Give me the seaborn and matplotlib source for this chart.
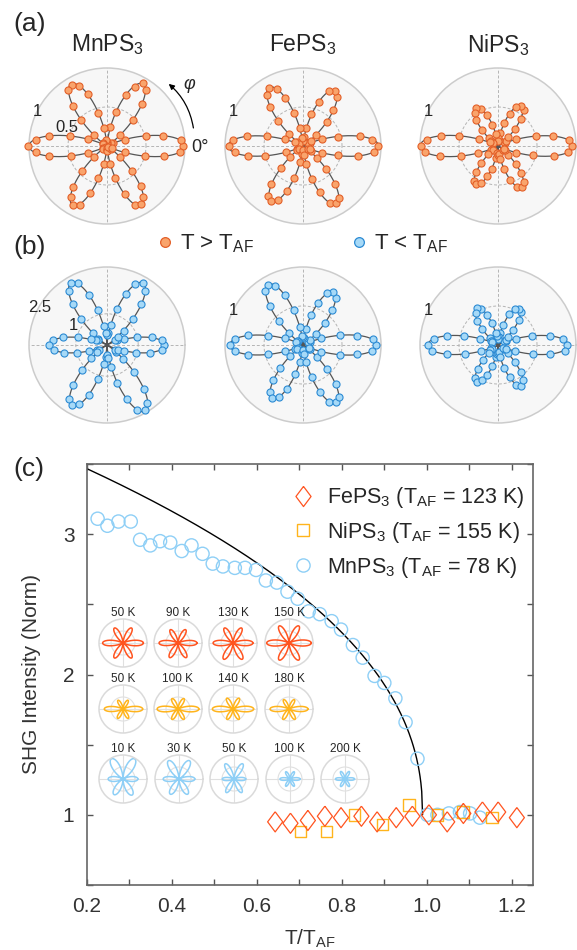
import numpy as np
import matplotlib
matplotlib.use('Agg')
import matplotlib.pyplot as plt
import seaborn as sns
from matplotlib.lines import Line2D
from matplotlib.ticker import MultipleLocator

# ---------------- (a)/(b) polar SHG patterns, one point every 5 deg
phi_deg = np.arange(0, 360, 5)

mn_hi = [0.98, 0.95, 0.73, 0.52, 0.24, 0.08, 0.03, 0.07, 0.22, 0.47, 0.70, 0.88,
         0.93, 0.84, 0.70, 0.45, 0.25, 0.05, 0.02, 0.08, 0.24, 0.44, 0.71, 0.85,
         0.90, 0.87, 0.67, 0.47, 0.22, 0.07, 0.01, 0.06, 0.26, 0.49, 0.76, 0.91,
         1.01, 0.92, 0.76, 0.48, 0.26, 0.06, 0.02, 0.07, 0.21, 0.45, 0.68, 0.80,
         0.87, 0.83, 0.64, 0.43, 0.23, 0.05, 0.03, 0.06, 0.23, 0.42, 0.66, 0.84,
         0.86, 0.80, 0.67, 0.45, 0.21, 0.07, 0.02, 0.07, 0.24, 0.51, 0.74, 0.94]
fe_hi = [0.96, 0.89, 0.74, 0.47, 0.26, 0.10, 0.08, 0.12, 0.22, 0.43, 0.60, 0.77,
         0.81, 0.78, 0.60, 0.42, 0.24, 0.11, 0.07, 0.10, 0.24, 0.44, 0.66, 0.80,
         0.86, 0.80, 0.66, 0.45, 0.23, 0.09, 0.06, 0.12, 0.25, 0.48, 0.73, 0.90,
         0.95, 0.88, 0.71, 0.50, 0.23, 0.08, 0.09, 0.07, 0.22, 0.40, 0.63, 0.78,
         0.81, 0.77, 0.61, 0.43, 0.21, 0.10, 0.05, 0.11, 0.23, 0.44, 0.63, 0.81,
         0.85, 0.81, 0.64, 0.41, 0.23, 0.12, 0.08, 0.10, 0.26, 0.47, 0.72, 0.91]
ni_hi = [0.95, 0.91, 0.72, 0.50, 0.25, 0.10, 0.09, 0.12, 0.17, 0.31, 0.45, 0.57,
         0.59, 0.55, 0.44, 0.30, 0.17, 0.08, 0.10, 0.07, 0.16, 0.28, 0.42, 0.53,
         0.56, 0.52, 0.43, 0.29, 0.15, 0.11, 0.08, 0.12, 0.26, 0.52, 0.74, 0.92,
         0.99, 0.94, 0.76, 0.49, 0.27, 0.09, 0.11, 0.08, 0.16, 0.30, 0.43, 0.54,
         0.56, 0.53, 0.41, 0.30, 0.16, 0.09, 0.12, 0.10, 0.17, 0.31, 0.46, 0.58,
         0.61, 0.57, 0.45, 0.33, 0.17, 0.08, 0.10, 0.09, 0.25, 0.47, 0.73, 0.90]
mn_lo = [1.84, 1.78, 1.45, 1.00, 0.58, 0.35, 0.30, 0.42, 0.70, 1.18, 1.72, 2.10,
         2.28, 2.15, 1.75, 1.20, 0.65, 0.38, 0.33, 0.40, 0.62, 1.15, 1.70, 2.18,
         2.30, 2.12, 1.70, 1.16, 0.60, 0.35, 0.32, 0.38, 0.55, 0.95, 1.42, 1.75,
         1.85, 1.72, 1.40, 0.98, 0.60, 0.36, 0.30, 0.41, 0.66, 1.15, 1.68, 2.10,
         2.22, 2.10, 1.72, 1.14, 0.62, 0.38, 0.31, 0.43, 0.70, 1.25, 1.85, 2.30,
         2.42, 2.25, 1.85, 1.24, 0.68, 0.37, 0.29, 0.40, 0.58, 0.96, 1.40, 1.76]
fe_lo = [0.94, 0.90, 0.70, 0.49, 0.25, 0.10, 0.07, 0.11, 0.21, 0.40, 0.58, 0.73,
         0.78, 0.74, 0.57, 0.40, 0.21, 0.09, 0.10, 0.12, 0.23, 0.46, 0.68, 0.84,
         0.89, 0.84, 0.66, 0.44, 0.24, 0.08, 0.09, 0.10, 0.25, 0.46, 0.71, 0.88,
         0.93, 0.87, 0.72, 0.46, 0.24, 0.11, 0.08, 0.09, 0.21, 0.41, 0.59, 0.74,
         0.79, 0.73, 0.60, 0.39, 0.22, 0.10, 0.06, 0.12, 0.22, 0.43, 0.64, 0.80,
         0.85, 0.81, 0.65, 0.43, 0.23, 0.09, 0.10, 0.08, 0.25, 0.49, 0.70, 0.89]
ni_lo = [0.89, 0.84, 0.68, 0.45, 0.24, 0.11, 0.09, 0.12, 0.16, 0.28, 0.42, 0.52,
         0.54, 0.51, 0.42, 0.27, 0.16, 0.10, 0.08, 0.11, 0.15, 0.29, 0.41, 0.51,
         0.55, 0.50, 0.41, 0.29, 0.14, 0.09, 0.11, 0.08, 0.24, 0.45, 0.66, 0.83,
         0.90, 0.85, 0.67, 0.44, 0.23, 0.10, 0.09, 0.12, 0.15, 0.27, 0.40, 0.52,
         0.55, 0.50, 0.41, 0.28, 0.15, 0.11, 0.10, 0.09, 0.16, 0.30, 0.44, 0.56,
         0.60, 0.55, 0.46, 0.30, 0.16, 0.09, 0.08, 0.11, 0.23, 0.46, 0.68, 0.86]

# fitted petal lengths at 0, 60, ..., 300 deg
mn_hi_fit = [1.0, 0.92, 0.92, 1.0, 0.88, 0.88]
fe_hi_fit = [0.97, 0.82, 0.87, 0.96, 0.82, 0.86]
ni_hi_fit = [0.97, 0.60, 0.57, 1.0, 0.57, 0.62]
mn_lo_fit = [1.86, 2.30, 2.30, 1.86, 2.25, 2.45]
fe_lo_fit = [0.95, 0.78, 0.90, 0.94, 0.79, 0.86]
ni_lo_fit = [0.90, 0.55, 0.55, 0.90, 0.55, 0.60]

# ---------------- (c) temperature dependence
fe_t = [0.643, 0.679, 0.720, 0.760, 0.798, 0.846, 0.883, 0.928, 0.966, 1.005,
        1.048, 1.086, 1.131, 1.168, 1.212]
fe_i = [0.95, 0.94, 0.96, 0.99, 0.98, 0.99, 0.95, 0.98, 0.99, 1.00,
        0.95, 1.01, 1.02, 1.02, 0.98]
ni_t = [0.702, 0.764, 0.830, 0.896, 0.958, 1.025, 1.085, 1.153]
ni_i = [0.88, 0.88, 1.00, 0.93, 1.07, 1.00, 1.02, 0.98]
mn_t = [0.225, 0.248, 0.274, 0.303, 0.325, 0.349, 0.372, 0.396, 0.423, 0.446,
        0.472, 0.496, 0.520, 0.548, 0.572, 0.598, 0.621, 0.647, 0.672, 0.696,
        0.722, 0.748, 0.776, 0.798, 0.826, 0.849, 0.877, 0.900, 0.926, 0.950,
        0.978, 1.001, 1.025, 1.052, 1.078, 1.102, 1.125]
mn_i = [3.11, 3.06, 3.09, 3.09, 2.96, 2.92, 2.95, 2.94, 2.88, 2.92,
        2.86, 2.79, 2.77, 2.76, 2.76, 2.745, 2.67, 2.655, 2.59, 2.54,
        2.45, 2.43, 2.38, 2.32, 2.21, 2.12, 1.99, 1.94, 1.83, 1.66,
        1.40, 1.00, 1.00, 1.01, 1.02, 1.01, 0.98]
# order parameter fit  I = 1 + A (1 - t/tc)^beta
fit_A, fit_beta, fit_tc = 2.73, 0.45, 0.99

# inset patterns (petal lengths, relative)
fe_inset_T = ['50 K', '90 K', '130 K', '150 K']
fe_inset_len = [[0.85, 0.72, 0.72, 0.85, 0.72, 0.72],
                [0.79, 0.64, 0.64, 0.79, 0.70, 0.70],
                [0.83, 0.72, 0.72, 0.83, 0.78, 0.78],
                [0.93, 0.82, 0.82, 0.93, 0.82, 0.82]]
ni_inset_T = ['50 K', '100 K', '140 K', '180 K']
ni_inset_len = [[0.82, 0.42, 0.42, 0.78, 0.45, 0.45],
                [0.87, 0.50, 0.50, 0.87, 0.50, 0.50],
                [0.86, 0.52, 0.52, 0.86, 0.50, 0.50],
                [0.79, 0.45, 0.45, 0.79, 0.50, 0.50]]
mn_inset_T = ['10 K', '30 K', '50 K', '100 K', '200 K']
mn_inset_len = [[0.62, 0.97, 0.97, 0.62, 0.75, 0.77],
                [0.66, 0.88, 0.88, 0.66, 0.73, 0.73],
                [0.49, 0.73, 0.73, 0.49, 0.65, 0.65],
                [0.42, 0.35, 0.35, 0.42, 0.35, 0.35],
                [0.40, 0.36, 0.36, 0.40, 0.36, 0.36]]
mn_inset_p = [1.3, 1.5, 2, 2, 2]

sns.set_style('ticks')
plt.rcParams['font.family'] = ['Liberation Sans', 'DejaVu Sans']
plt.rcParams['mathtext.fontset'] = 'custom'
plt.rcParams['mathtext.rm'] = 'Liberation Sans'
plt.rcParams['mathtext.it'] = 'Liberation Sans:italic'
plt.rcParams['mathtext.bf'] = 'Liberation Sans:bold'

W, H = 577, 950
fig = plt.figure(figsize=(W / 100, H / 100), dpi=100)

ORANGE_F, ORANGE_E = '#f9a46c', '#e35f28'
BLUE_F, BLUE_E = '#a6d9f7', '#2b8ad3'


def petals(lengths, p=2, n=1441):
    th = np.linspace(0, 2 * np.pi, n)
    k = np.round(th / (np.pi / 3))
    d = th - k * np.pi / 3
    r = np.array(lengths)[k.astype(int) % 6] * np.abs(np.cos(3 * d)) ** p
    return th, r


def polar_panel(cx, cy, rad, rmax, rin, pts, fit, fc, ec, labels):
    ax = fig.add_axes([(cx - rad) / W, 1 - (cy + rad) / H, 2 * rad / W, 2 * rad / H],
                      projection='polar')
    ax.set_facecolor('#f7f7f7')
    ax.set_ylim(0, rmax)
    ax.set_xticks(np.deg2rad([0, 90, 180, 270]))
    ax.set_xticklabels([])
    ax.set_yticks([rin])
    ax.set_yticklabels([])
    ax.grid(True, color='#b4b4b4', ls=(0, (3, 2)), lw=0.7)
    ax.spines['polar'].set_color('#cccccc')
    ax.spines['polar'].set_linewidth(1.1)
    th, r = petals(fit)
    ax.plot(th, r, color='#555555', lw=0.9, zorder=2)
    sns.scatterplot(x=np.deg2rad(phi_deg), y=pts, ax=ax, s=26, color=fc,
                    edgecolor=ec, linewidth=0.8, zorder=3, clip_on=False)
    ax.set_xlabel('')
    ax.set_ylabel('')
    for r0, ang, s in labels:
        ax.text(np.deg2rad(ang), r0, s, ha='center', va='center', fontsize=12)
    return ax


xs = [107, 303, 498]
ax_mn_a = polar_panel(xs[0], 146, 78, 1.0, 0.5, mn_hi, mn_hi_fit, ORANGE_F, ORANGE_E,
                      [(1.0, 154, '1'), (0.57, 156, '0.5')])
polar_panel(xs[1], 146, 78, 1.0, 0.5, fe_hi, fe_hi_fit, ORANGE_F, ORANGE_E, [(1.0, 154, '1')])
polar_panel(xs[2], 146, 78, 1.0, 0.5, ni_hi, ni_hi_fit, ORANGE_F, ORANGE_E, [(1.0, 154, '1')])
polar_panel(xs[0], 345, 78, 2.5, 1.0, mn_lo, mn_lo_fit, BLUE_F, BLUE_E,
            [(2.47, 151, '2.5'), (1.24, 149, '1')])
polar_panel(xs[1], 345, 78, 1.0, 0.5, fe_lo, fe_lo_fit, BLUE_F, BLUE_E, [(1.0, 154, '1')])
polar_panel(xs[2], 345, 78, 1.0, 0.5, ni_lo, ni_lo_fit, BLUE_F, BLUE_E, [(1.0, 154, '1')])

# rotation arrow and angle marks
ax_mn_a.annotate('', xy=(np.deg2rad(47), 1.12), xytext=(np.deg2rad(10), 1.13),
                 arrowprops=dict(arrowstyle='-|>', color='k', lw=0.9, mutation_scale=8,
                                 connectionstyle='arc3,rad=0.2'),
                 annotation_clip=False)
ax_mn_a.text(np.deg2rad(37), 1.32, 'φ', fontsize=13, style='italic', ha='center', va='center')
ax_mn_a.text(np.deg2rad(-1), 1.08, '0°', fontsize=13, ha='left', va='center')

for x0, name in zip(xs, ['MnPS$_3$', 'FePS$_3$', 'NiPS$_3$']):
    fig.text(x0 / W, 1 - 45 / H, name, ha='center', va='center', fontsize=16.5)

fig.text(13 / W, 1 - 24 / H, '(a)', ha='left', va='center', fontsize=19)
fig.text(13 / W, 1 - 247 / H, '(b)', ha='left', va='center', fontsize=19)
fig.text(13 / W, 1 - 469 / H, '(c)', ha='left', va='center', fontsize=19)

hdl = [Line2D([], [], ls='', marker='o', ms=7, mfc=ORANGE_F, mec=ORANGE_E, mew=0.9),
       Line2D([], [], ls='', marker='o', ms=7, mfc=BLUE_F, mec=BLUE_E, mew=0.9)]
fig.legend(hdl, ['T > T$_{\\rm AF}$', 'T < T$_{\\rm AF}$'], loc='center',
           bbox_to_anchor=(302 / W, 1 - 244 / H), ncol=2, frameon=False, fontsize=16,
           handlelength=0.8, handletextpad=0.3, columnspacing=4.3)

# ---------------- (c)
axc = fig.add_axes([87 / W, 1 - 885 / H, 446 / W, 421 / H])
RED, AMBER, SKY = '#ff5420', '#ffb41c', '#8ecff6'
diamond = [(0, 1), (0.75, 0), (0, -1), (-0.75, 0), (0, 1)]

tt = np.linspace(0.2, fit_tc, 400)
curve = 1 + fit_A * np.clip(1 - tt / fit_tc, 0, None) ** fit_beta
axc.plot(np.append(tt, fit_tc), np.append(curve, 1.0), color='k', lw=1.0, zorder=2)

sns.scatterplot(x=mn_t, y=mn_i, ax=axc, marker='o', s=90, facecolor='none',
                edgecolor=SKY, linewidth=1.0, zorder=3)
sns.scatterplot(x=ni_t, y=ni_i, ax=axc, marker='s', s=68, facecolor='none',
                edgecolor=AMBER, linewidth=1.0, zorder=3)
sns.scatterplot(x=fe_t, y=fe_i, ax=axc, marker=diamond, s=210, facecolor='none',
                edgecolor=RED, linewidth=0.9, zorder=4)

axc.set_xlim(0.2, 1.25)
axc.set_ylim(0.5, 3.5)
axc.xaxis.set_major_locator(MultipleLocator(0.2))
axc.xaxis.set_minor_locator(MultipleLocator(0.1))
axc.yaxis.set_major_locator(MultipleLocator(1))
axc.yaxis.set_minor_locator(MultipleLocator(0.5))
axc.set_xticks([0.2, 0.4, 0.6, 0.8, 1.0, 1.2])
axc.set_xticklabels(['0.2', '0.4', '0.6', '0.8', '1.0', '1.2'])
axc.tick_params(which='both', direction='in', top=True, right=True, length=4,
                width=1.0, color='#555555', labelsize=15, labelcolor='#333333', pad=9)
for sp in axc.spines.values():
    sp.set_color('#666666')
    sp.set_linewidth(1.2)
axc.set_xlabel('T/T$_{\\rm AF}$', fontsize=15, color='#333333', labelpad=8)
axc.set_ylabel('SHG Intensity (Norm)', fontsize=15, color='#333333', labelpad=16)

lh = [Line2D([], [], ls='', marker=diamond, ms=14.5, mfc='none', mec=RED, mew=0.9),
      Line2D([], [], ls='', marker='s', ms=8.3, mfc='none', mec=AMBER, mew=1.0),
      Line2D([], [], ls='', marker='o', ms=9.5, mfc='none', mec=SKY, mew=1.0)]
axc.legend(lh, ['FePS$_3$ (T$_{\\rm AF}$ = 123 K)', 'NiPS$_3$ (T$_{\\rm AF}$ = 155 K)',
                'MnPS$_3$ (T$_{\\rm AF}$ = 78 K)'],
           loc='upper right', bbox_to_anchor=(1.005, 0.975), frameon=False, fontsize=15.5,
           handlelength=1.0, handletextpad=0.6, labelspacing=0.45, borderaxespad=0.1)


def inset(cx, cy, rad, lengths, color, label, p=2):
    ax = fig.add_axes([(cx - rad) / W, 1 - (cy + rad) / H, 2 * rad / W, 2 * rad / H],
                      projection='polar')
    ax.set_facecolor('none')
    ax.set_ylim(0, 1)
    ax.set_xticks(np.deg2rad([0, 90, 180, 270]))
    ax.set_xticklabels([])
    ax.set_yticks([0.5])
    ax.set_yticklabels([])
    ax.grid(True, color='#e0e0e0', lw=0.8)
    ax.spines['polar'].set_color('#dadada')
    ax.spines['polar'].set_linewidth(1.1)
    th, r = petals(lengths, p)
    ax.plot(th, r, color=color, lw=1.1)
    fig.text(cx / W, 1 - (cy - 30) / H, label, ha='center', va='center', fontsize=8.5)


for cx, L, T in zip([123, 178, 233, 289], fe_inset_len, fe_inset_T):
    inset(cx, 643, 24, L, RED, T)
for cx, L, T in zip([123, 178, 233, 289], ni_inset_len, ni_inset_T):
    inset(cx, 709, 24, L, AMBER, T)
for cx, L, T, p in zip([123, 179, 234, 290, 345], mn_inset_len, mn_inset_T, mn_inset_p):
    inset(cx, 779, 24, L, SKY, T, p)

fig.savefig('out.png', dpi=100)
